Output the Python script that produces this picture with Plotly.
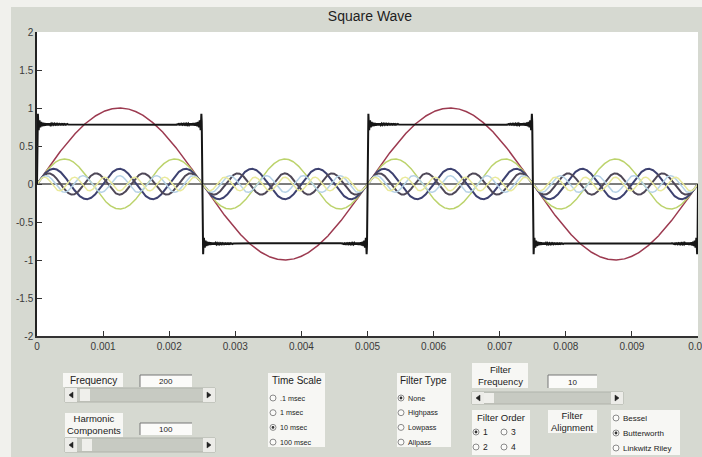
import numpy as np
import plotly.graph_objects as go

# ---- signal settings shown in the control panel ----
FUNDAMENTAL_HZ = 200
HARMONIC_COMPONENTS = 100
TIME_END = 0.01

# individual odd harmonics drawn under the synthesized wave
HARMONIC_ORDERS = [1, 3, 5, 7, 9, 11]
HARMONIC_AMPLITUDES = [1.0, 0.33, 0.20, 0.14, 0.11, 0.09]

# axis ticks
X_TICKS = [0, 0.001, 0.002, 0.003, 0.004, 0.005, 0.006, 0.007, 0.008, 0.009, 0.01]
X_TICK_TEXT = ["0", "0.001", "0.002", "0.003", "0.004", "0.005", "0.006",
               "0.007", "0.008", "0.009", "0.01"]
Y_TICKS = [-2, -1.5, -1, -0.5, 0, 0.5, 1, 1.5, 2]
Y_TICK_TEXT = ["-2", "-1.5", "-1", "-0.5", "0", "0.5", "1", "1.5", "2"]

# control panel text
FREQ_VALUE = "200"
HARMONIC_VALUE = "100"
FILTER_FREQ_VALUE = "10"
TIME_SCALE_OPTIONS = [".1 msec", "1 msec", "10 msec", "100 msec"]
TIME_SCALE_SELECTED = 2
FILTER_TYPE_OPTIONS = ["None", "Highpass", "Lowpass", "Allpass"]
FILTER_TYPE_SELECTED = 0
FILTER_ORDER_OPTIONS = ["1", "3", "2", "4"]
FILTER_ORDER_SELECTED = 0
ALIGNMENT_OPTIONS = ["Bessel", "Butterworth", "Linkwitz Riley"]
ALIGNMENT_SELECTED = 1

HARMONIC_COLORS = ["#9c3a50", "#bcd36c", "#3d4170", "#4f4858", "#b6d2e6", "#e9e99a"]
HARMONIC_WIDTHS = [1.5, 1.5, 2, 2, 1.5, 1.5]

W, H = 702, 457
ML, MR, MT, MB = 37, 4, 32, 121
PW, PH = W - ML - MR, H - MT - MB
GRAY = "#d6d9d1"
FONT = "Liberation Sans, Arial, sans-serif"


def px(x):
    return (x - ML) / PW


def py(y):
    return (H - MB - y) / PH


t = np.linspace(0, TIME_END, 6001)
w = 2 * np.pi * FUNDAMENTAL_HZ

fig = go.Figure()
for order, amp, col, lw in zip(HARMONIC_ORDERS, HARMONIC_AMPLITUDES,
                               HARMONIC_COLORS, HARMONIC_WIDTHS):
    fig.add_trace(go.Scatter(x=t, y=amp * np.sin(order * w * t), mode="lines",
                             line=dict(color=col, width=lw), hoverinfo="skip"))

# Fourier synthesis of the square wave from the odd harmonics
square = np.zeros_like(t)
for k in range(HARMONIC_COMPONENTS):
    n = 2 * k + 1
    square += np.sin(n * w * t) / n
fig.add_trace(go.Scatter(x=t, y=square, mode="lines",
                         line=dict(color="#161616", width=2), hoverinfo="skip"))

shapes = []
annotations = []


def rect(x0, y0, x1, y1, fill, line="rgba(0,0,0,0)", lw=0):
    shapes.append(dict(type="rect", xref="paper", yref="paper",
                       x0=px(x0), x1=px(x1), y0=py(y1), y1=py(y0),
                       fillcolor=fill, line=dict(color=line, width=lw), layer="above"))


def text(x, y, s, size=10, anchor="center", color="#222"):
    annotations.append(dict(xref="paper", yref="paper", x=px(x), y=py(y), text=s,
                            showarrow=False, xanchor=anchor, yanchor="middle",
                            font=dict(family=FONT, size=size, color=color)))


def tri(x, y, right):
    d = 2 if right else -2
    path = (f"M {px(x - d)} {py(y - 3)} L {px(x + d)} {py(y)} "
            f"L {px(x - d)} {py(y + 3)} Z")
    shapes.append(dict(type="path", xref="paper", yref="paper", path=path,
                       fillcolor="#222", line=dict(color="#222", width=0.5), layer="above"))


def radio(x, y, on):
    r = 3
    shapes.append(dict(type="circle", xref="paper", yref="paper",
                       x0=px(x - r), x1=px(x + r), y0=py(y + r), y1=py(y - r),
                       fillcolor="#fbfbf9", line=dict(color="#8a8a8a", width=1), layer="above"))
    if on:
        r2 = 1.4
        shapes.append(dict(type="circle", xref="paper", yref="paper",
                           x0=px(x - r2), x1=px(x + r2), y0=py(y + r2), y1=py(y - r2),
                           fillcolor="#333", line=dict(color="#333", width=0), layer="above"))


def edit(x0, y0, x1, y1, s):
    rect(x0, y0, x1, y1, "#fbfbf9")
    shapes.append(dict(type="path", xref="paper", yref="paper",
                       path=f"M {px(x0)} {py(y1)} L {px(x0)} {py(y0)} L {px(x1)} {py(y0)}",
                       line=dict(color="#777", width=1), layer="above"))
    text((x0 + x1) / 2, (y0 + y1) / 2 + 0.5, s, size=8)


def slider(x0, y0, x1, y1, thumb):
    rect(x0, y0, x1, y1, "#c7cac2", "#b0b3ab", 1)
    rect(x0, y0, x0 + 12, y1, "#ecece8")
    rect(x1 - 12, y0, x1, y1, "#ecece8")
    rect(thumb, y0 + 1, thumb + 10, y1 - 1, "#efefeb")
    tri(x0 + 6, (y0 + y1) / 2, False)
    tri(x1 - 6, (y0 + y1) / 2, True)


# light scanner edge on the left and top
shapes.append(dict(type="rect", xref="paper", yref="paper", x0=px(0), x1=px(11),
                   y0=py(H), y1=py(0), fillcolor="#f1f1ed", line=dict(width=0), layer="below"))
shapes.append(dict(type="rect", xref="paper", yref="paper", x0=px(0), x1=px(W),
                   y0=py(7), y1=py(0), fillcolor="#f1f1ed", line=dict(width=0), layer="below"))

# frequency / harmonic controls
rect(63, 373, 123, 387, "#f7f7f4")
text(93, 380.5, "Frequency")
edit(140, 375, 192, 387, FREQ_VALUE)
slider(65, 388, 215, 402, 80)
rect(65, 413, 123, 437, "#f7f7f4")
text(94, 425, "Harmonic<br>Components", size=9.5)
edit(140, 423, 192, 435, HARMONIC_VALUE)
slider(65, 438, 215, 452, 82)

# time scale panel
rect(268, 373, 325, 447, "#f7f7f4")
text(296.5, 380, "Time Scale")
for i, s in enumerate(TIME_SCALE_OPTIONS):
    yy = 398 + i * 14.7
    radio(273, yy, i == TIME_SCALE_SELECTED)
    text(278, yy, s, size=7.2, anchor="left")

# filter type panel
rect(397, 373, 451, 447, "#f7f7f4")
text(424, 380, "Filter Type")
for i, s in enumerate(FILTER_TYPE_OPTIONS):
    yy = 398 + i * 14.7
    radio(401, yy, i == FILTER_TYPE_SELECTED)
    text(406, yy, s, size=7.2, anchor="left")

# filter frequency
rect(472, 363, 528, 388, "#f7f7f4")
text(500, 375.5, "Filter<br>Frequency", size=9.5)
edit(548, 375, 597, 388, FILTER_FREQ_VALUE)
slider(472, 392, 623, 404, 484)

# filter order
rect(472, 410, 530, 455, "#f7f7f4")
text(501, 417, "Filter Order", size=9.5)
for i, s in enumerate(FILTER_ORDER_OPTIONS):
    xx = 476 + (i % 2) * 28
    yy = 432 + (i // 2) * 15
    radio(xx, yy, i == FILTER_ORDER_SELECTED)
    text(xx + 5, yy, s, size=8.5, anchor="left")

# filter alignment
rect(548, 410, 597, 433, "#f7f7f4")
text(572.5, 421.5, "Filter<br>Alignment", size=9.5)
rect(611, 410, 680, 455, "#f7f7f4")
for i, s in enumerate(ALIGNMENT_OPTIONS):
    yy = 418 + i * 15
    radio(616, yy, i == ALIGNMENT_SELECTED)
    text(621, yy, s, size=8, anchor="left")

axis_font = dict(family=FONT, size=10, color="#3a3a3a")
fig.update_layout(
    width=W, height=H,
    margin=dict(l=ML, r=MR, t=MT, b=MB, autoexpand=False),
    paper_bgcolor=GRAY, plot_bgcolor="white",
    showlegend=False,
    title=dict(text="Square Wave", x=px(370), xref="paper", xanchor="center",
               y=1 - 16 / H, yref="container", yanchor="middle",
               font=dict(family=FONT, size=14, color="#1e1e1e")),
    xaxis=dict(range=[0, TIME_END], tickvals=X_TICKS, ticktext=X_TICK_TEXT,
               ticks="inside", ticklen=5, tickcolor="#333", tickwidth=1,
               showline=True, linecolor="#333", linewidth=1.5, showgrid=False,
               zeroline=False, tickfont=axis_font, fixedrange=True,
               ticklabeloverflow="allow", automargin=False),
    yaxis=dict(range=[-2, 2], tickvals=Y_TICKS, ticktext=Y_TICK_TEXT,
               ticks="inside", ticklen=5, tickcolor="#333", tickwidth=1,
               showline=True, linecolor="#222", linewidth=1.5, showgrid=False,
               zeroline=True, zerolinecolor="#7d7d7d", zerolinewidth=1.5,
               tickfont=axis_font, fixedrange=True, automargin=False),
    shapes=shapes, annotations=annotations,
)

fig.write_html("out.html")
